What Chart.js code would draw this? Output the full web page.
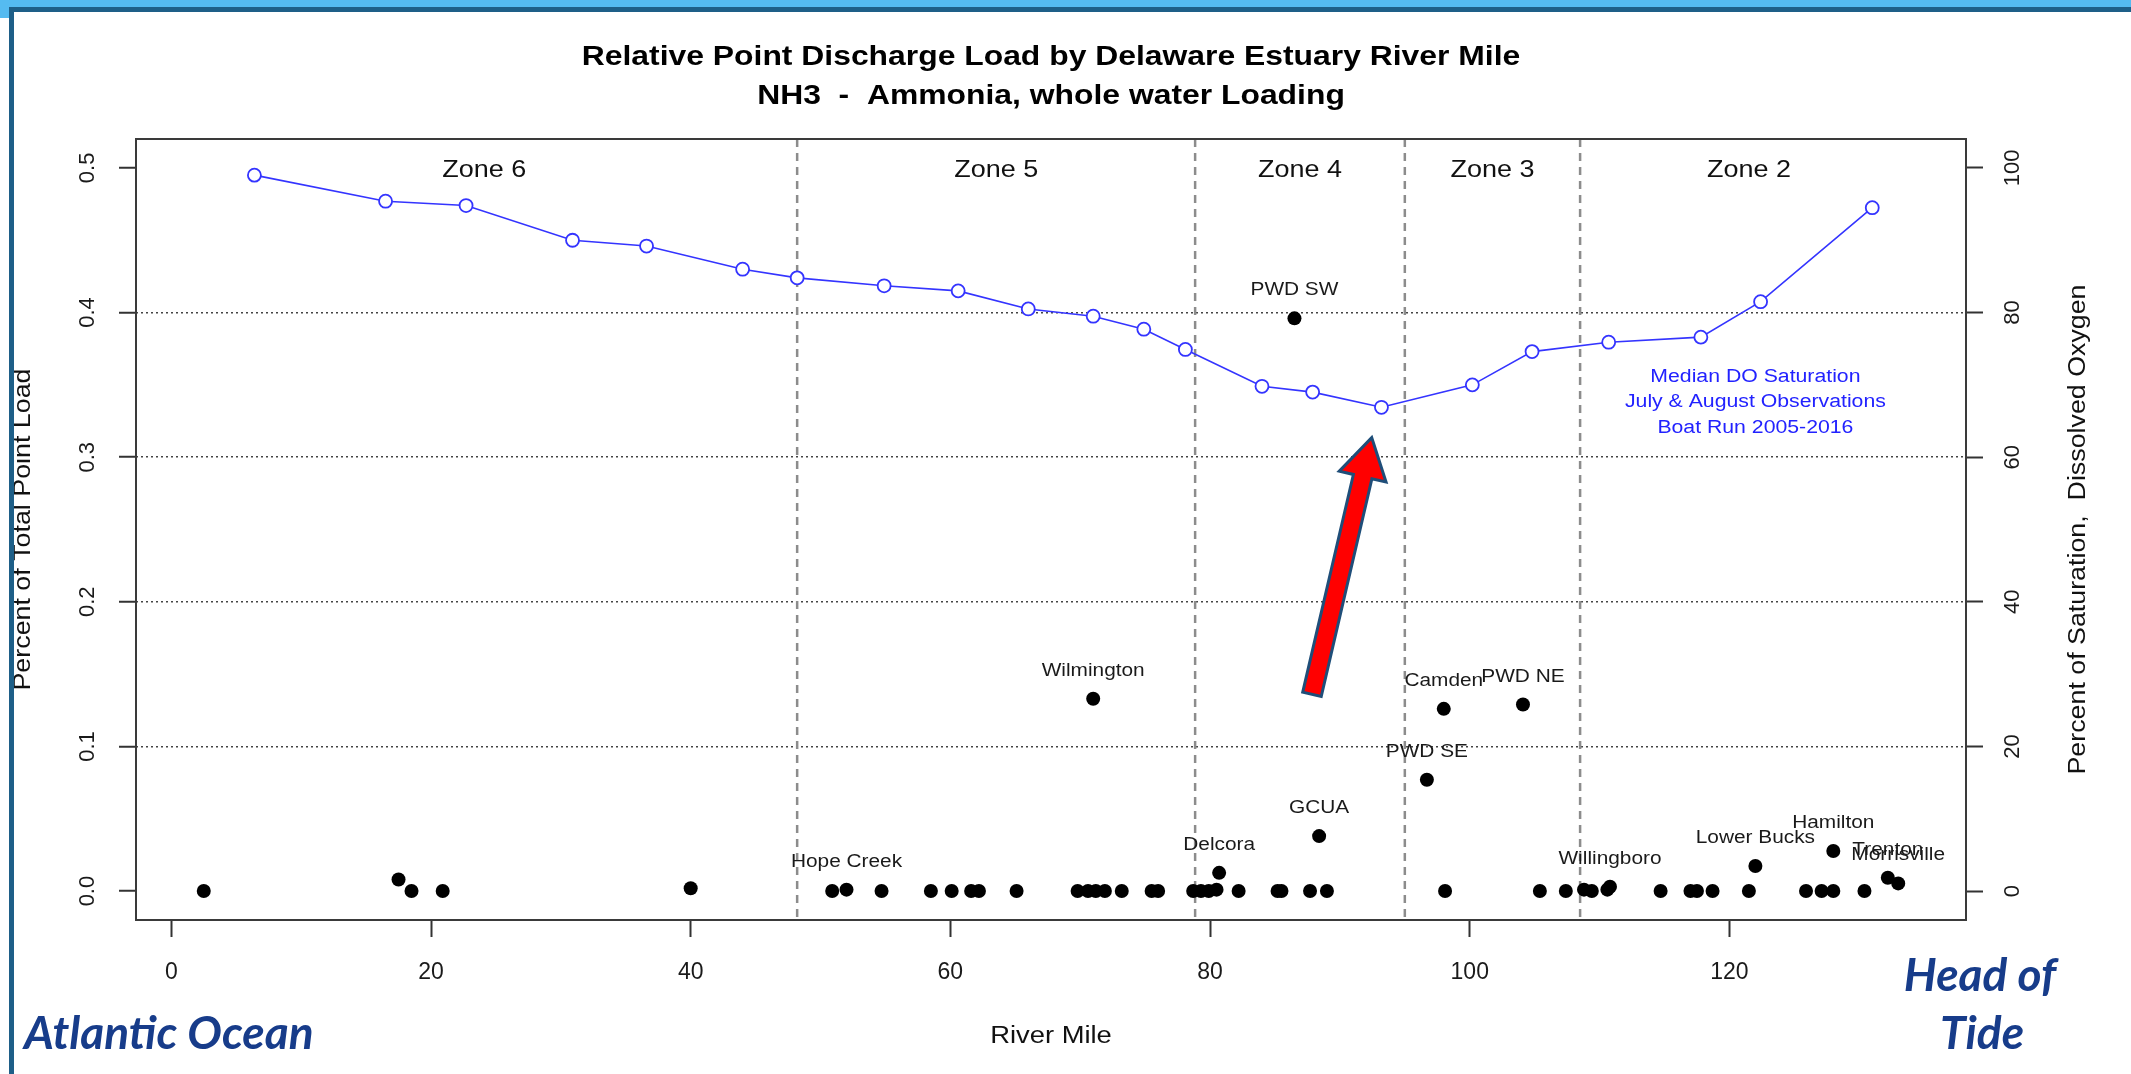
<!DOCTYPE html>
<html>
<head>
<meta charset="utf-8">
<title>Relative Point Discharge Load by Delaware Estuary River Mile</title>
<script src="https://cdn.jsdelivr.net/npm/chart.js@4.4.1/dist/chart.umd.min.js"></script>
<style>
  html, body { margin: 0; padding: 0; background: #fff; overflow: hidden; }
  #area { position: absolute; left: 0; top: 0; width: 2131px; height: 1074px; }
  .faixa { position: absolute; }
</style>
</head>
<body>
<div id="area"><canvas id="graficoCarga"></canvas></div>
<div class="faixa" style="left:0;top:0;width:2131px;height:8px;background:#55bbf1"></div>
<div class="faixa" style="left:0;top:0;width:9px;height:18px;background:#55bbf1"></div>
<div class="faixa" style="left:9px;top:7px;width:2122px;height:5px;background:#1e5f88"></div>
<div class="faixa" style="left:9px;top:7px;width:5px;height:1067px;background:#1e5f88"></div>
<script>
// median DO saturation (right axis), July & August boat runs
const doMiles = [6.4, 16.5, 22.7, 30.9, 36.6, 44.0, 48.2, 54.9, 60.6, 66.0, 71.0, 74.9, 78.1, 84.0, 87.9, 93.2, 100.2, 104.8, 110.7, 117.8, 122.4, 131.0]
const doSat = [99.0, 95.4, 94.8, 90.0, 89.2, 86.0, 84.8, 83.7, 83.0, 80.5, 79.5, 77.7, 74.9, 69.8, 69.0, 66.9, 70.0, 74.6, 75.9, 76.6, 81.5, 94.5]

// named discharges
const siteNames = ['Hope Creek', 'Wilmington', 'Delcora', 'PWD SW', 'GCUA', 'PWD SE', 'Camden', 'PWD NE', 'Willingboro', 'Lower Bucks', 'Hamilton', 'Trenton', 'Morrisville']
const siteMiles = [52.0, 71.0, 80.7, 86.5, 88.4, 96.7, 98.0, 104.1, 110.8, 122.0, 128.0, 132.2, 133.0]
const siteLoads = [0.001, 0.133, 0.0126, 0.396, 0.038, 0.077, 0.126, 0.129, 0.003, 0.0173, 0.0277, 0.0092, 0.0053]

// other discharges
const otherMiles = [2.5, 17.5, 18.5, 20.9, 40.0, 50.9, 54.7, 58.5, 60.1, 61.6, 62.2, 65.1, 69.8, 70.6, 71.2, 71.9, 73.2, 75.5, 76.0, 78.7, 79.3, 79.9, 80.5, 82.2, 85.2, 85.5, 87.7, 89.0, 98.1, 105.4, 107.4, 108.8, 109.4, 110.6, 114.7, 117.0, 117.5, 118.7, 121.5, 125.9, 127.1, 128.0, 130.4]
const otherLoads = [0, 0.008, 0, 0, 0.002, 0, 0, 0, 0, 0, 0, 0, 0, 0, 0, 0, 0, 0, 0, 0, 0, 0, 0.001, 0, 0, 0, 0, 0, 0, 0, 0, 0.001, 0, 0.001, 0, 0, 0, 0, 0, 0, 0, 0, 0]

// zones
const zoneBreaks = [48.2, 78.85, 95.0, 108.5]
const zoneNames = ['Zone 6', 'Zone 5', 'Zone 4', 'Zone 3', 'Zone 2']
const zoneEdges = [0, 48.2, 78.85, 95.0, 108.5, 134.5]

// axes
const ticksX = [0, 20, 40, 60, 80, 100, 120]
const ticksLoad = [0, 0.1, 0.2, 0.3, 0.4, 0.5]
const ticksSat = [0, 20, 40, 60, 80, 100]
const gridLoad = [0.1, 0.2, 0.3, 0.4]

const noteLines = ['Median DO Saturation', 'July & August Observations', 'Boat Run 2005-2016']
const noteAt = { x: 122.0, y: 0.352 }
const arrowFrom = { x: 87.85, y: 0.136 }
const arrowTo = { x: 92.45, y: 0.3135 }

const FONTE = '"Liberation Sans", Arial, Helvetica, sans-serif'
const ESTICA = 1.19

function escreve(ctx, texto, x, y, tam, op) {
  op = op || {}
  ctx.save()
  ctx.font = (op.bold ? 'bold ' : '') + tam + 'px ' + FONTE
  ctx.fillStyle = op.cor || '#111'
  ctx.textAlign = op.align || 'center'
  ctx.textBaseline = op.base || 'alphabetic'
  ctx.translate(x, y)
  if (op.rot) ctx.rotate(op.rot)
  ctx.scale(op.sx || ESTICA, 1)
  ctx.fillText(texto, 0, 0)
  ctx.restore()
}

function desenhaSeta(ctx, p0, p1) {
  const dx = p1.x - p0.x, dy = p1.y - p0.y
  const len = Math.hypot(dx, dy)
  const ux = dx / len, uy = dy / len
  const nx = -uy, ny = ux
  const meia = 9.5, cabeca = 24, compCabeca = 40
  const bx = p1.x - ux * compCabeca, by = p1.y - uy * compCabeca
  ctx.save()
  ctx.beginPath()
  ctx.moveTo(p0.x + nx * meia, p0.y + ny * meia)
  ctx.lineTo(bx + nx * meia, by + ny * meia)
  ctx.lineTo(bx + nx * cabeca, by + ny * cabeca)
  ctx.lineTo(p1.x, p1.y)
  ctx.lineTo(bx - nx * cabeca, by - ny * cabeca)
  ctx.lineTo(bx - nx * meia, by - ny * meia)
  ctx.lineTo(p0.x - nx * meia, p0.y - ny * meia)
  ctx.closePath()
  ctx.fillStyle = '#ff0000'
  ctx.fill()
  ctx.lineWidth = 3
  ctx.lineJoin = 'miter'
  ctx.strokeStyle = '#1f4e79'
  ctx.stroke()
  ctx.restore()
}

const moldura = {
  id: 'moldura',
  beforeDatasetsDraw(chart) {
    const { ctx, chartArea, scales } = chart
    ctx.save()
    ctx.strokeStyle = '#8c8c8c'
    ctx.lineWidth = 2.5
    ctx.setLineDash([8, 6])
    zoneBreaks.forEach(m => {
      const x = scales.x.getPixelForValue(m)
      ctx.beginPath()
      ctx.moveTo(x, chartArea.top)
      ctx.lineTo(x, chartArea.bottom)
      ctx.stroke()
    })
    ctx.restore()
  },
  afterDatasetsDraw(chart) {
    const { ctx, chartArea, scales } = chart
    const sx = scales.x, sy = scales.y

    // plot box
    ctx.save()
    ctx.strokeStyle = '#3a3a3a'
    ctx.lineWidth = 2
    ctx.strokeRect(chartArea.left, chartArea.top, chartArea.right - chartArea.left, chartArea.bottom - chartArea.top)
    ctx.restore()

    // zone names
    zoneNames.forEach((nome, i) => {
      const meio = (zoneEdges[i] + zoneEdges[i + 1]) / 2
      escreve(ctx, nome, sx.getPixelForValue(meio), sy.getPixelForValue(0.494), 24, { sx: 1.124 })
    })

    // discharge names above their points
    siteNames.forEach((nome, i) => {
      const x = sx.getPixelForValue(siteMiles[i])
      const y = sy.getPixelForValue(siteLoads[i])
      escreve(ctx, nome, x, y - 23, 17.5, { cor: '#1a1a1a' })
    })

    // DO note
    const nx = sx.getPixelForValue(noteAt.x), ny = sy.getPixelForValue(noteAt.y)
    noteLines.forEach((linha, i) => {
      escreve(ctx, linha, nx, ny + i * 25.5, 18, { cor: '#2222ff', sx: 1.18 })
    })

    desenhaSeta(ctx,
      { x: sx.getPixelForValue(arrowFrom.x), y: sy.getPixelForValue(arrowFrom.y) },
      { x: sx.getPixelForValue(arrowTo.x), y: sy.getPixelForValue(arrowTo.y) })
  },
  afterDraw(chart) {
    const { ctx, chartArea } = chart
    const meioX = (chartArea.left + chartArea.right) / 2
    const meioY = (chartArea.top + chartArea.bottom) / 2

    escreve(ctx, 'Relative Point Discharge Load by Delaware Estuary River Mile', meioX, 65, 27, { bold: true, sx: 1.18, cor: '#000' })
    escreve(ctx, 'NH3  -  Ammonia, whole water Loading', meioX, 104, 27, { bold: true, sx: 1.18, cor: '#000' })

    escreve(ctx, 'Percent of Total Point Load', 24, meioY, 23, { rot: -Math.PI / 2, base: 'middle', sx: 1.166 })
    escreve(ctx, 'Percent of Saturation,  Dissolved Oxygen', 2079, meioY, 23, { rot: -Math.PI / 2, base: 'middle', sx: 1.165 })
    escreve(ctx, 'River Mile', meioX, 1043, 23, { sx: 1.19 })

    ctx.save()
    ctx.font = 'italic bold 46px Lato, "Open Sans", sans-serif'
    ctx.fillStyle = '#173c8a'
    ctx.textAlign = 'left'
    ctx.fillText('Atlantic Ocean', 24, 1049)
    ctx.textAlign = 'center'
    ctx.fillText('Head of', 1980, 991)
    ctx.fillText('Tide', 1982, 1049)
    ctx.restore()
  }
}

const pontos = otherMiles.map((m, i) => ({ x: m, y: otherLoads[i] }))
  .concat(siteMiles.map((m, i) => ({ x: m, y: siteLoads[i] })))
const pontosDO = doMiles.map((m, i) => ({ x: m, y: doSat[i] }))

const corTick = '#333'
const graficoCarga = new Chart(document.getElementById('graficoCarga'), {
  type: 'scatter',
  data: {
    datasets: [{
      label: 'Percent of Total Point Load',
      data: pontos,
      yAxisID: 'y',
      showLine: false,
      pointRadius: 7,
      pointBorderWidth: 0,
      pointBackgroundColor: '#000',
      pointBorderColor: '#000'
    }, {
      label: 'Median DO Saturation',
      data: pontosDO,
      yAxisID: 'y2',
      showLine: true,
      borderColor: '#3434ff',
      borderWidth: 1.6,
      pointRadius: 6.5,
      pointBorderWidth: 1.8,
      pointBorderColor: '#3434ff',
      pointBackgroundColor: '#fff'
    }]
  },
  options: {
    responsive: true,
    maintainAspectRatio: false,
    animation: false,
    layout: { padding: { top: 139, left: 0, right: 0, bottom: 0 } },
    plugins: { legend: { display: false }, tooltip: { enabled: false } },
    scales: {
      x: {
        type: 'linear',
        position: 'bottom',
        min: -2.72,
        max: 138.22,
        afterBuildTicks: eixo => { eixo.ticks = ticksX.map(v => ({ value: v })) },
        afterFit: eixo => { eixo.height = 154 },
        border: { display: false },
        grid: { drawOnChartArea: false, drawTicks: true, tickLength: 17, tickColor: corTick, tickWidth: 2 },
        ticks: { autoSkip: false, maxRotation: 0, padding: 22, color: '#1a1a1a', font: { family: FONTE, size: 23 } }
      },
      y: {
        type: 'linear',
        position: 'left',
        min: -0.02,
        max: 0.52,
        afterBuildTicks: eixo => { eixo.ticks = ticksLoad.map(v => ({ value: v })) },
        afterFit: eixo => { eixo.width = 136 },
        border: { display: false, dash: [2, 3] },
        grid: {
          drawOnChartArea: true,
          drawTicks: true,
          tickLength: 17,
          tickColor: corTick,
          tickWidth: 2,
          tickBorderDash: [],
          lineWidth: 1.5,
          color: c => (c.tick && gridLoad.some(g => Math.abs(g - c.tick.value) < 1e-6)) ? '#444' : 'rgba(0,0,0,0)'
        },
        ticks: {
          minRotation: 90,
          maxRotation: 90,
          crossAlign: 'center',
          padding: 15.7,
          color: '#1a1a1a',
          font: { family: FONTE, size: 22 },
          callback: v => Number(v).toFixed(1)
        }
      },
      y2: {
        type: 'linear',
        position: 'right',
        min: -4,
        max: 104,
        afterBuildTicks: eixo => { eixo.ticks = ticksSat.map(v => ({ value: v })) },
        afterFit: eixo => { eixo.width = 165 },
        border: { display: false },
        grid: { drawOnChartArea: false, drawTicks: true, tickLength: 17, tickColor: corTick, tickWidth: 2 },
        ticks: {
          minRotation: 90,
          maxRotation: 90,
          crossAlign: 'center',
          padding: 11.6,
          color: '#1a1a1a',
          font: { family: FONTE, size: 22 },
          callback: v => String(v)
        }
      }
    }
  },
  plugins: [moldura]
})
console.log(graficoCarga.chartArea)
</script>
</body>
</html>
